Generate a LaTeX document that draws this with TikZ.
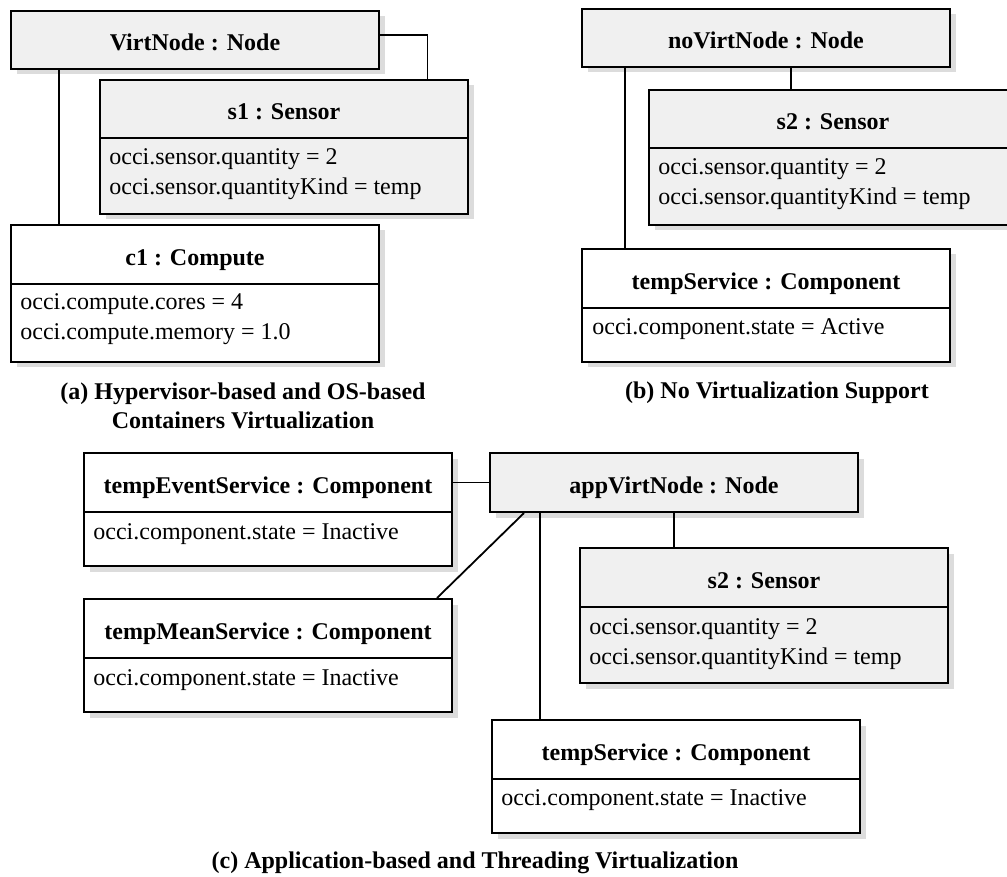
\documentclass[tikz,border=0pt]{standalone}
\usepackage{fontspec}
\setmainfont{Liberation Serif}
\usetikzlibrary{shadows}
\definecolor{hdrgray}{HTML}{F0F0F0}
\definecolor{shadowgray}{HTML}{DCDCDC}
\begin{document}
\begin{tikzpicture}[x=0.5pt,y=-0.5pt,
  every node/.style={font=\fontsize{12}{14}\selectfont},
  box/.style={draw=black, line width=1pt, minimum width=184pt, inner sep=0pt, anchor=north west,
    drop shadow={shadow xshift=2.75pt, shadow yshift=-2.75pt, fill=shadowgray, opacity=1}},
  gbox/.style={box, fill=hdrgray},
  wbox/.style={box, fill=white},
  hdrtxt/.style={font=\fontsize{12}{14}\selectfont\bfseries, inner sep=0pt, text height=0.7em, text depth=0.2em},
  attrtxt/.style={inner sep=0pt, anchor=west, text height=0.7em, text depth=0.2em},
  conn/.style={draw=black, line width=0.9pt},
  captxt/.style={font=\fontsize{12}{14.5}\selectfont\bfseries, inner sep=0pt, align=center}
]
\useasboundingbox (0,0) rectangle (1007,877);

% ---------- (a) ----------
\node[gbox, minimum height=29pt] (vn) at (10,10) {};
\node[hdrtxt] (vnt) at ([yshift=-3pt]vn.center) {VirtNode : Node};

\node[gbox, minimum height=29pt] (s1h) at (99,79) {};
\node[gbox, minimum height=38pt] (s1a) at (99,137) {};
\node[hdrtxt] (s1t) at ([yshift=-3pt]s1h.center) {s1 : Sensor};
\node[attrtxt] (s1l1) at (109,160) {occi.sensor.quantity = 2};
\node[attrtxt] (s1l2) at (109,190) {occi.sensor.quantityKind = temp};

\node[wbox, minimum height=29.5pt] (c1h) at (10,224) {};
\node[wbox, minimum height=39pt] (c1a) at (10,283) {};
\node[hdrtxt] (c1t) at ([yshift=-3pt]c1h.center) {c1 : Compute};
\node[attrtxt] (c1l1) at (20,305) {occi.compute.cores = 4};
\node[attrtxt] (c1l2) at (20,335) {occi.compute.memory = 1.0};

\draw[conn] ([yshift=2.5pt]vn.east) -| ([xshift=71.75pt]s1h.north);
\draw[conn] ([xshift=-68pt]vn.south) -- ([xshift=-68pt]c1h.north);

\node[captxt] (capa) at (243,406) {(a) Hypervisor-based and OS-based\\Containers Virtualization};

% ---------- (b) ----------
\node[gbox, minimum height=29pt] (nvn) at (581,8) {};
\node[hdrtxt] (nvnt) at ([yshift=-3pt]nvn.center) {noVirtNode : Node};

\node[gbox, minimum height=29pt] (s2bh) at (648,89) {};
\node[gbox, minimum height=38.5pt] (s2ba) at (648,147) {};
\node[hdrtxt] (s2bt) at ([yshift=-3pt]s2bh.center) {s2 : Sensor};
\node[attrtxt] (s2bl1) at (658,170) {occi.sensor.quantity = 2};
\node[attrtxt] (s2bl2) at (658,200) {occi.sensor.quantityKind = temp};

\node[wbox, minimum height=29.5pt] (tsbh) at (581,248) {};
\node[wbox, minimum height=27pt] (tsba) at (581,307) {};
\node[hdrtxt] (tsbt) at ([yshift=-3pt]tsbh.center) {tempService : Component};
\node[attrtxt] (tsbl1) at (592,330) {occi.component.state = Active};

\draw[conn] ([xshift=12.5pt]nvn.south) -- ([xshift=12.5pt]nvn.south |- s2bh.north);
\draw[conn] ([xshift=-70.5pt]nvn.south) -- ([xshift=-70.5pt]nvn.south |- tsbh.north);

\node[captxt] (capb) at (777,393) {(b) No Virtualization Support};

% ---------- (c) ----------
\node[wbox, minimum height=29.5pt] (tesh) at (83,452) {};
\node[wbox, minimum height=27pt] (tesa) at (83,511) {};
\node[hdrtxt] (test) at ([yshift=-3pt]tesh.center) {tempEventService : Component};
\node[attrtxt] (tesl1) at (93,534) {occi.component.state = Inactive};

\node[gbox, minimum height=29.5pt] (avn) at (489,452) {};
\node[hdrtxt] (avnt) at ([yshift=-3pt]avn.center) {appVirtNode : Node};

\node[gbox, minimum height=29.5pt] (s2ch) at (579,547) {};
\node[gbox, minimum height=38pt] (s2ca) at (579,606) {};
\node[hdrtxt] (s2ct) at ([yshift=-3pt]s2ch.center) {s2 : Sensor};
\node[attrtxt] (s2cl1) at (589,629) {occi.sensor.quantity = 2};
\node[attrtxt] (s2cl2) at (589,659) {occi.sensor.quantityKind = temp};

\node[wbox, minimum height=29.5pt] (tmsh) at (83,598) {};
\node[wbox, minimum height=27pt] (tmsa) at (83,657) {};
\node[hdrtxt] (tmst) at ([yshift=-3pt]tmsh.center) {tempMeanService : Component};
\node[attrtxt] (tmsl1) at (93,680) {occi.component.state = Inactive};

\node[wbox, minimum height=29.5pt] (tsch) at (491,719) {};
\node[wbox, minimum height=27pt] (tsca) at (491,778) {};
\node[hdrtxt] (tsct) at ([yshift=-3pt]tsch.center) {tempService : Component};
\node[attrtxt] (tscl1) at (501,800) {occi.component.state = Inactive};

\draw[conn] (tesh.east) -- (tesh.east -| avn.west);
\draw[conn] ([xshift=-75pt]avn.south) -- ([xshift=-8pt]tmsh.north east);
\draw[conn] ([xshift=-67pt]avn.south) -- ([xshift=-67pt]avn.south |- tsch.north);
\draw[conn] (avn.south) -- (avn.south |- s2ch.north);

\node[captxt] (capc) at (475,863) {(c) Application-based and Threading Virtualization};
\end{tikzpicture}
\end{document}
